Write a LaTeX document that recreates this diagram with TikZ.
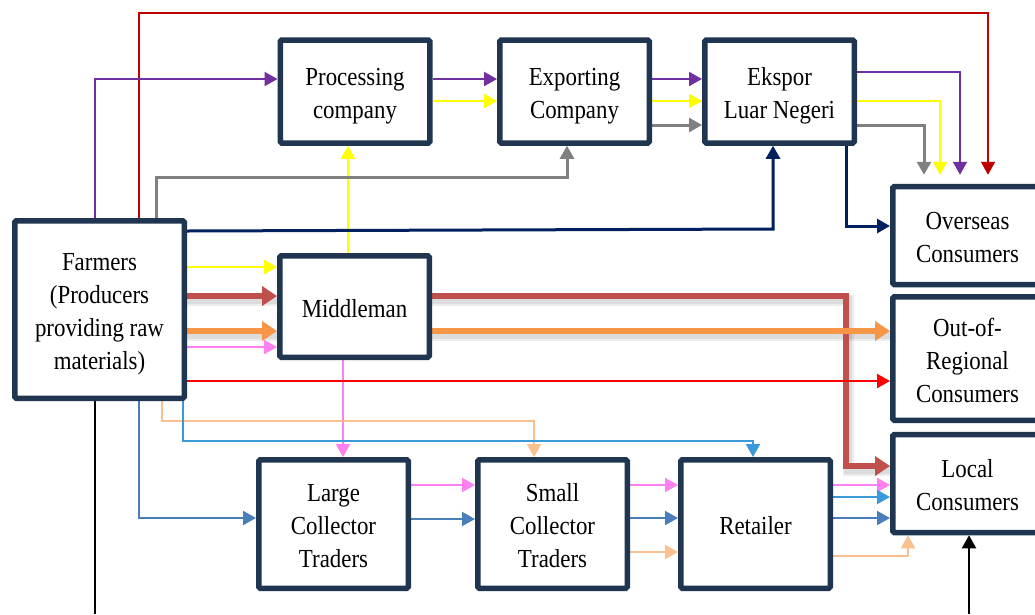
\documentclass[tikz,border=0pt]{standalone}
\usepackage{fontspec}
\setmainfont{Liberation Serif}[FakeStretch=0.88]
\usetikzlibrary{arrows.meta,calc}
\definecolor{boxc}{RGB}{31,53,80}
\definecolor{cdarkred}{HTML}{C00000}
\definecolor{cpurple}{HTML}{7030A0}
\definecolor{cyellow}{HTML}{FFFF00}
\definecolor{cgray}{HTML}{808080}
\definecolor{cnavy}{HTML}{002060}
\definecolor{cbrown}{HTML}{C0504D}
\definecolor{corange}{HTML}{F79646}
\definecolor{cpink}{HTML}{FF80F0}
\definecolor{cred}{HTML}{FF0000}
\definecolor{csteel}{HTML}{4A7EBB}
\definecolor{clblue}{HTML}{3A9AD9}
\definecolor{cpeach}{HTML}{FAC090}
\pgfdeclarelayer{bg}
\pgfsetlayers{bg,main}
\newcommand{\bxt}[1]{\raisebox{0pt}[\dimexpr\height+8pt\relax][\depth]{\begin{tabular}{@{}c@{}}#1\end{tabular}}}
\tikzset{
  box/.style={draw=boxc, line width=5.5pt, fill=white, rounded corners=1.5pt,
    align=center, inner sep=0pt, minimum width=149.5pt, font=\fontsize{26}{33}\selectfont},
  thin/.style={line width=2.2pt, -{Triangle[length=13pt,width=14pt]}},
  thick/.style={line width=6.5pt, -{Triangle[length=15pt,width=19pt]}},
  shad/.style={line width=#1, draw=black, opacity=0.07, shift={(2pt,-4pt)}},
  gapend/.style={shorten >=9pt},
}
\begin{document}
\begin{tikzpicture}[x=1pt,y=-1pt]
\useasboundingbox (0,0) rectangle (1035,614);
\clip (0,0) rectangle (1035,614);

\node[box, minimum height=103pt] (proc) at (355,91.5) {\bxt{Processing\\company}};
\node[box, minimum height=103pt] (exp) at (574.5,91.5) {\bxt{Exporting\\Company}};
\node[box, minimum height=103pt] (eks) at (779.5,91.5) {\bxt{Ekspor\\Luar Negeri}};
\node[box, minimum width=169.5pt, minimum height=177.5pt] (farm) at (99.5,309.5) {\bxt{Farmers\\(Producers\\providing raw\\materials)}};
\node[box, minimum height=101.5pt] (mid) at (354.5,306.5) {\bxt{Middleman}};
\node[box, minimum height=98pt] (over) at (967.5,235.5) {\bxt{Overseas\\Consumers}};
\node[box, minimum height=123.5pt] (out) at (967.5,358.5) {\bxt{Out-of-\\Regional\\Consumers}};
\node[box, minimum height=98pt] (loc) at (967.5,483.5) {\bxt{Local\\Consumers}};
\node[box, minimum height=128.5pt] (large) at (333.5,524) {\bxt{Large\\Collector\\Traders}};
\node[box, minimum height=128.5pt] (small) at (552.5,524) {\bxt{Small\\Collector\\Traders}};
\node[box, minimum height=128.5pt] (ret) at (755.5,524) {\bxt{Retailer}};

\coordinate (bot1) at (95,614);
\coordinate (bot2) at (969,614);

\begin{pgfonlayer}{bg}
\fill[white] (0,0) rectangle (1035,614);
% dark red: farmers -> overseas (top route)
\draw[thin, cdarkred, gapend] (farm.north -| 139,0) -- (139,13) -- (988,13) -- (over.north -| 988,0);
% purple
\draw[thin, cpurple] (farm.north -| 95,0) |- (proc.west |- 0,79);
\draw[thin, cpurple] (proc.east |- 0,79) -- (exp.west |- 0,79);
\draw[thin, cpurple] (exp.east |- 0,79) -- (eks.west |- 0,79);
\draw[thin, cpurple, gapend] (eks.east |- 0,72) -| (over.north -| 960,0);
% yellow
\draw[thin, cyellow] (proc.east |- 0,101) -- (exp.west |- 0,101);
\draw[thin, cyellow] (exp.east |- 0,101) -- (eks.west |- 0,101);
\draw[thin, cyellow, gapend] (eks.east |- 0,101) -| (over.north -| 940,0);
\draw[thin, cyellow] (farm.east |- 0,267) -- (mid.west |- 0,267);
\draw[thin, cyellow] (mid.north -| 348,0) -- (proc.south -| 348,0);
% gray
\draw[thin, cgray, line width=3pt] (farm.north -| 156,0) |- (567,177) -- (exp.south -| 567,0);
\draw[thin, cgray, line width=3pt] (exp.east |- 0,125) -- (eks.west |- 0,125);
\draw[thin, cgray, line width=3pt, gapend] (eks.east |- 0,125) -| (over.north -| 924,0);
% navy
\draw[thin, cnavy, line width=3pt] (farm.east |- 0,231) -- (773,229) -- (eks.south -| 773,0);
\draw[thin, cnavy, line width=3pt] (eks.south -| 846,0) |- (over.west |- 0,226);
% shadows of thick arrows
\foreach \w in {11pt,8pt}{
  \draw[shad=\w] (farm.east |- 0,296) -- (mid.west |- 0,296);
  \draw[shad=\w] (mid.east |- 0,296) -| (846,466) -- (loc.west |- 0,466);
  \draw[shad=\w] (farm.east |- 0,331) -- (mid.west |- 0,331);
  \draw[shad=\w] (mid.east |- 0,331) -- (out.west |- 0,331);
}
% brown thick
\draw[thick, cbrown] (farm.east |- 0,296) -- (mid.west |- 0,296);
\draw[thick, cbrown] (mid.east |- 0,296) -| (846,466) -- (loc.west |- 0,466);
% orange thick
\draw[thick, corange] (farm.east |- 0,331) -- (mid.west |- 0,331);
\draw[thick, corange] (mid.east |- 0,331) -- (out.west |- 0,331);
% pink
\draw[thin, cpink] (farm.east |- 0,347) -- (mid.west |- 0,347);
\draw[thin, cpink] (mid.south -| 343,0) -- (large.north -| 343,0);
\draw[thin, cpink] (large.east |- 0,485) -- (small.west |- 0,485);
\draw[thin, cpink] (small.east |- 0,485) -- (ret.west |- 0,485);
\draw[thin, cpink] (ret.east |- 0,485) -- (loc.west |- 0,485);
% red
\draw[thin, cred] (farm.east |- 0,381) -- (out.west |- 0,381);
% steel blue
\draw[thin, csteel] (farm.south -| 139,0) |- (large.west |- 0,518);
\draw[thin, csteel] (large.east |- 0,519) -- (small.west |- 0,519);
\draw[thin, csteel] (small.east |- 0,518) -- (ret.west |- 0,518);
\draw[thin, csteel] (ret.east |- 0,518) -- (loc.west |- 0,518);
% peach
\draw[thin, cpeach] (farm.south -| 162,0) |- (534,421) -- (small.north -| 534,0);
\draw[thin, cpeach] (small.east |- 0,552) -- (ret.west |- 0,552);
\draw[thin, cpeach] (ret.east |- 0,556) -| (loc.south -| 908,0);
% light blue
\draw[thin, clblue] (farm.south -| 183,0) |- (753,441) -- (ret.north -| 753,0);
\draw[thin, clblue] (ret.east |- 0,497) -- (loc.west |- 0,497);
% black
\draw[line width=2pt, black] (farm.south -| 95,0) -- (bot1);
\draw[thin, black] (bot2) -- (loc.south -| 969,0);
\end{pgfonlayer}
\end{tikzpicture}
\end{document}
